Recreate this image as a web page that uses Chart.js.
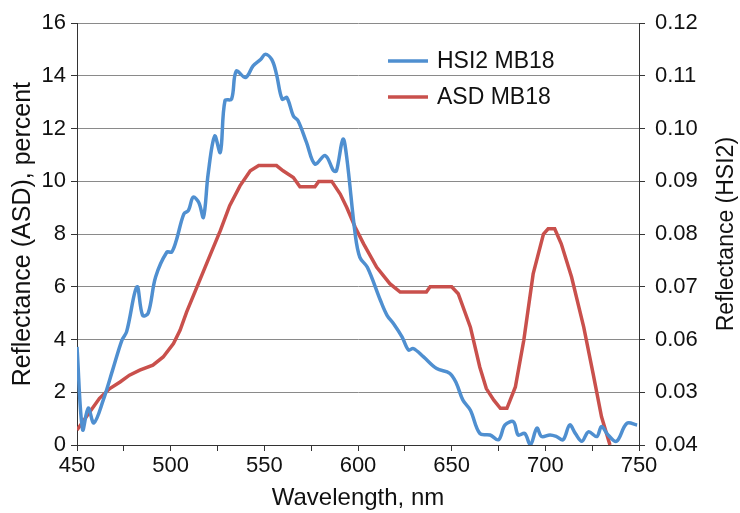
<!DOCTYPE html>
<html>
<head>
<meta charset="utf-8">
<script src="https://cdn.jsdelivr.net/npm/chart.js@4/dist/chart.umd.min.js"></script>
<style>
  body { margin: 0; background: #fff; }
  #wrap { width: 740px; height: 513px; }
</style>
</head>
<body>
<div id="wrap"><canvas id="chart" width="740" height="513"></canvas></div>
<script>
// HSI2 MB18 (right axis, reflectance fraction)
const hsiWavelength = [450, 453, 456, 459, 464, 469, 474, 476.5, 482, 485, 488, 492, 498, 500.5, 503, 507, 509.5, 512, 515, 517.5,
  520, 523.5, 526.5, 529, 532.5, 535, 540, 544, 548, 550.5, 554, 556.5, 559.5, 562, 565.5, 568, 572.5, 577, 582.5, 587,
  588.5, 592, 594, 598.5, 601, 605, 612, 615.5, 619, 623.5, 627, 629.5, 635, 642, 649, 652.5, 656, 660, 665, 670.5,
  675, 678.5, 683, 685.5, 689, 692, 695.5, 698, 702.5, 706, 709.5, 713, 716, 719.5, 723, 727.5, 730, 733.5, 738, 743.5, 749];
const hsiReflectance = [0.0586, 0.0429, 0.0470, 0.0442, 0.0485, 0.0542, 0.0599, 0.0615, 0.0700, 0.0646, 0.0650, 0.0719, 0.0766, 0.0766, 0.0788, 0.0838, 0.0845, 0.0870, 0.0860, 0.0832,
  0.0914, 0.0986, 0.0955, 0.1053, 0.1056, 0.1109, 0.1097, 0.1119, 0.1131, 0.1141, 0.1131, 0.1103, 0.1056, 0.1059, 0.1024, 0.1015, 0.0974, 0.0933, 0.0949, 0.0920,
  0.0920, 0.0980, 0.0945, 0.0800, 0.0756, 0.0737, 0.0674, 0.0646, 0.0630, 0.0605, 0.0580, 0.0583, 0.0567, 0.0545, 0.0536, 0.0517, 0.0485, 0.0466, 0.0422, 0.0419,
  0.0410, 0.0438, 0.0444, 0.0419, 0.0422, 0.0400, 0.0432, 0.0416, 0.0419, 0.0416, 0.0410, 0.0438, 0.0422, 0.0407, 0.0425, 0.0416, 0.0435, 0.0419, 0.0407, 0.0441, 0.0438];

// ASD MB18 (left axis, percent)
const asdWavelength = [450, 455, 462, 467.5, 473, 478, 483.5, 490.5, 496, 501.5, 505, 508.5, 514, 521, 526.5, 531.5, 537, 542.5, 547, 556.5,
  560, 565.5, 569, 577, 579, 586, 590.5, 594, 598.5, 603, 610, 617, 622.5, 636.5, 638.5, 650, 653.5, 660, 665, 668.5,
  672.5, 676, 679.5, 684, 688.5, 693.5, 699, 701.5, 705, 708.5, 714, 720.5, 725.5, 730, 734.5];
const asdReflectance = [0.57, 1.07, 1.77, 2.14, 2.39, 2.65, 2.84, 3.03, 3.34, 3.85, 4.35, 5.04, 5.99, 7.19, 8.13, 9.08, 9.83, 10.4, 10.6, 10.6,
  10.4, 10.15, 9.8, 9.8, 10.0, 10.0, 9.52, 9.01, 8.26, 7.63, 6.74, 6.12, 5.8, 5.8, 6.0, 6.0, 5.74, 4.47, 2.96, 2.14,
  1.7, 1.39, 1.39, 2.2, 3.97, 6.49, 8.0, 8.2, 8.2, 7.63, 6.37, 4.47, 2.71, 1.07, 0];

const seriesLabels = ["HSI2 MB18", "ASD MB18"];
const xTickLabels = ["450", "500", "550", "600", "650", "700", "750"];
const leftTickLabels = ["0", "2", "4", "6", "8", "10", "12", "14", "16"];
const rightTickLabels = ["0.04", "0.03", "0.06", "0.07", "0.08", "0.09", "0.10", "0.11", "0.12"];

const FONT = "'Liberation Sans', Arial, sans-serif";
const blue = "#4F8FD0";
const red = "#C9504C";

const legendPlugin = {
  id: "insideLegend",
  afterDraw(chart) {
    const ctx = chart.ctx;
    ctx.save();
    chart.data.datasets.forEach((ds, i) => {
      const y = 61 + i * 36;
      ctx.strokeStyle = ds.borderColor;
      ctx.lineWidth = 3.5;
      ctx.beginPath();
      ctx.moveTo(388, y);
      ctx.lineTo(428, y);
      ctx.stroke();
      ctx.fillStyle = "#111";
      ctx.font = "23px " + FONT;
      ctx.textAlign = "left";
      ctx.textBaseline = "middle";
      ctx.fillText(ds.label, 437, y + 1);
    });
    // right axis title, reading bottom to top
    const a = chart.chartArea;
    ctx.translate(727, (a.top + a.bottom) / 2);
    ctx.rotate(-Math.PI / 2);
    ctx.textAlign = "center";
    ctx.textBaseline = "middle";
    ctx.font = "23px " + FONT;
    ctx.fillText("Reflectance (HSI2)", 0, 0);
    ctx.restore();
  }
};

new Chart(document.getElementById("chart"), {
  type: "line",
  data: {
    datasets: [
      {
        label: seriesLabels[0],
        data: hsiWavelength.map((x, i) => ({ x: x, y: hsiReflectance[i] })),
        yAxisID: "y2",
        borderColor: blue,
        borderWidth: 3.5,
        pointRadius: 0,
        tension: 0.35,
        fill: false
      },
      {
        label: seriesLabels[1],
        data: asdWavelength.map((x, i) => ({ x: x, y: asdReflectance[i] })),
        yAxisID: "y",
        borderColor: red,
        borderWidth: 3.5,
        pointRadius: 0,
        tension: 0,
        fill: false
      }
    ]
  },
  options: {
    responsive: false,
    animation: false,
    layout: { padding: { top: 22, left: 0, right: 0, bottom: 0 } },
    plugins: { legend: { display: false }, tooltip: { enabled: false } },
    scales: {
      x: {
        type: "linear",
        min: 450,
        max: 750,
        afterFit: (s) => { s.height = 68; },
        ticks: {
          stepSize: 25,
          autoSkip: false,
          maxRotation: 0,
          padding: 2,
          color: "#111",
          font: { family: FONT, size: 22 },
          callback: (v) => (v % 50 === 0 ? xTickLabels[(v - 450) / 50] : "")
        },
        grid: { drawOnChartArea: false, tickLength: 6, color: "#333" },
        border: { color: "#333", width: 1 },
        title: {
          display: true,
          text: "Wavelength, nm",
          color: "#111",
          font: { family: FONT, size: 24 },
          padding: 0
        }
      },
      y: {
        position: "left",
        min: 0,
        max: 16,
        afterFit: (s) => { s.width = 77; },
        ticks: {
          stepSize: 2,
          padding: 5,
          color: "#111",
          font: { family: FONT, size: 22 },
          callback: (v, i) => leftTickLabels[i]
        },
        grid: { color: "#8a8a8a", tickColor: "#333", tickLength: 6 },
        border: { color: "#333", width: 1 },
        title: {
          display: true,
          text: "Reflectance (ASD), percent",
          color: "#111",
          font: { family: FONT, size: 25 },
          padding: { top: 8, bottom: 0 }
        }
      },
      y2: {
        position: "right",
        min: 0.04,
        max: 0.12,
        afterFit: (s) => { s.width = 101; },
        ticks: {
          stepSize: 0.01,
          padding: 10,
          color: "#111",
          font: { family: FONT, size: 22 },
          callback: (v, i) => rightTickLabels[i]
        },
        grid: { drawOnChartArea: false, tickColor: "#333", tickLength: 6 },
        border: { color: "#333", width: 1 }
      }
    }
  },
  plugins: [legendPlugin]
});
</script>
</body>
</html>
